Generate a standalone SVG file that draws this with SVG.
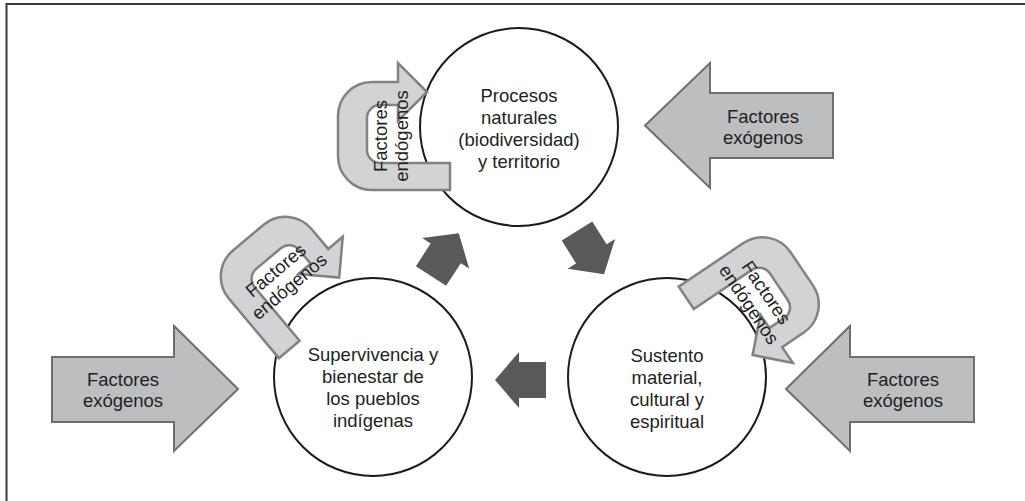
<svg xmlns="http://www.w3.org/2000/svg" width="1025" height="501" viewBox="0 0 1025 501">
  <defs>
    <style>
      .frame { fill: none; stroke: #3a3a3a; stroke-width: 2; }
      .circle { fill: #ffffff; stroke: #1a1a1a; stroke-width: 2; }
      .flow { fill: #58595b; }
      .exo { fill: #bcbec0; stroke: #6d6e71; stroke-width: 2; stroke-linejoin: miter; }
      .endo { fill: #d1d3d4; stroke: #808285; stroke-width: 2.5; stroke-linejoin: miter; }
      text { font-family: "Liberation Sans", Arial, sans-serif; font-size: 18.5px; fill: #231f20; text-anchor: middle; }
    </style>
    <!-- block arrow pointing along +x, base at origin -->
    <path id="flowArrow" d="M0,-18 L27,-18 L27,-28 L51,0 L27,28 L27,18 L0,18 Z"/>
    <!-- U-turn arrow, opening to the right, origin at the bend centre -->
    <path id="uturn" d="M58,27 L58,54 L-20,54 A34,34 0 0 1 -54,20 L-54,-20 A34,34 0 0 1 -20,-54 L6,-54 L6,-73 L35,-44 L6,-15 L6,-31 L-12,-31 A13,13 0 0 0 -25,-18 L-25,14 A13,13 0 0 0 -12,27 Z"/>
  </defs>

  <rect class="frame" x="6.5" y="4" width="1040" height="520"/>

  <!-- main cycle nodes -->
  <g id="node-procesos">
    <circle class="circle" cx="519" cy="127" r="99"/>
    <text x="519" y="102">Procesos</text>
    <text x="519" y="124">naturales</text>
    <text x="519" y="146">(biodiversidad)</text>
    <text x="519" y="168">y territorio</text>
  </g>
  <g id="node-supervivencia">
    <circle class="circle" cx="373" cy="377" r="99"/>
    <text x="373" y="361">Supervivencia y</text>
    <text x="373" y="383">bienestar de</text>
    <text x="373" y="405">los pueblos</text>
    <text x="373" y="427">indígenas</text>
  </g>
  <g id="node-sustento">
    <circle class="circle" cx="667" cy="377" r="99"/>
    <text x="667" y="362">Sustento</text>
    <text x="667" y="384">material,</text>
    <text x="667" y="406">cultural y</text>
    <text x="667" y="428">espiritual</text>
  </g>

  <!-- cycle connectors -->
  <g id="connectors">
    <use href="#flowArrow" class="flow" transform="translate(431,276) rotate(-57)"/>
    <use href="#flowArrow" class="flow" transform="translate(577,231) rotate(58)"/>
    <use href="#flowArrow" class="flow" transform="translate(546,380) rotate(180)"/>
  </g>

  <!-- external factors -->
  <g id="node-exo-top">
    <path class="exo" d="M833,93 L710,93 L710,63 L645,125.5 L710,188 L710,158 L833,158 Z"/>
    <text x="763" y="123">Factores</text>
    <text x="763" y="144">exógenos</text>
  </g>
  <g id="node-exo-right">
    <path class="exo" d="M974,357 L850,357 L850,326 L786,389 L850,451 L850,422 L974,422 Z"/>
    <text x="903" y="386">Factores</text>
    <text x="903" y="407">exógenos</text>
  </g>
  <g id="node-exo-left">
    <path class="exo" d="M52,357 L174,357 L174,326 L238,389 L174,451 L174,422 L52,422 Z"/>
    <text x="123" y="386">Factores</text>
    <text x="123" y="407">exógenos</text>
  </g>

  <!-- internal factors -->
  <g id="node-endo-top" transform="translate(392,136)">
    <use href="#uturn" class="endo"/>
    <g transform="rotate(-90)">
      <text x="0" y="-5">Factores</text>
      <text x="0" y="16">endógenos</text>
    </g>
  </g>
  <g id="node-endo-left" transform="translate(283,279) rotate(50)">
    <use href="#uturn" class="endo"/>
    <g transform="rotate(-90)">
      <text x="0" y="-5">Factores</text>
      <text x="0" y="16">endógenos</text>
    </g>
  </g>
  <g id="node-endo-right" transform="translate(757,299) rotate(146)">
    <use href="#uturn" class="endo"/>
    <g transform="rotate(-90)">
      <text x="0" y="-5">Factores</text>
      <text x="0" y="16">endógenos</text>
    </g>
  </g>
</svg>
